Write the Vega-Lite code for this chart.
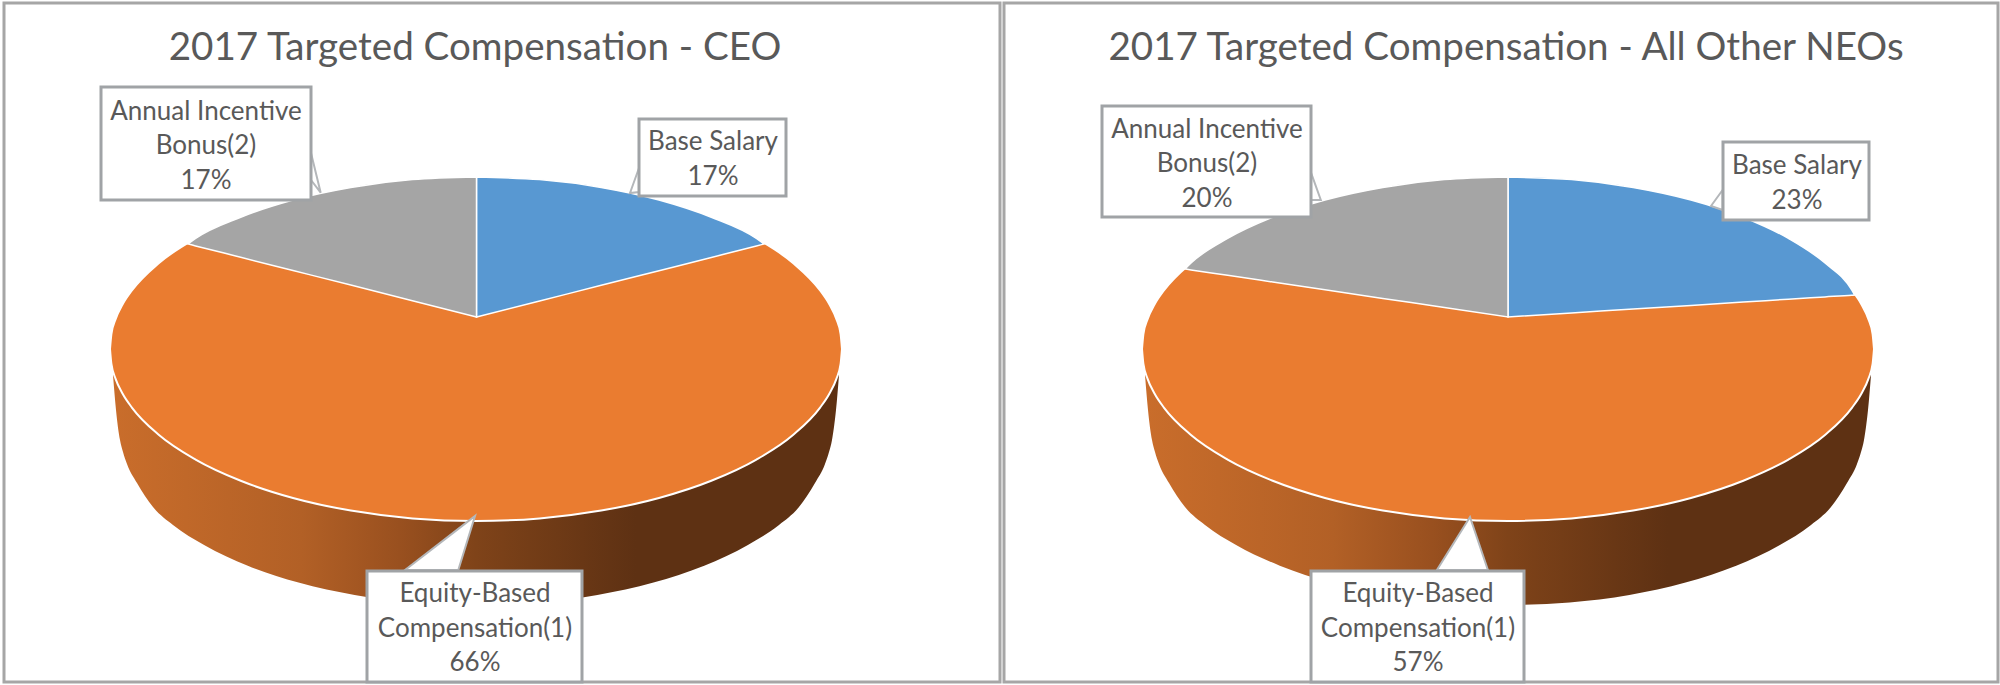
{"$schema":"https://vega.github.io/schema/vega-lite/v6.json","width":2000,"height":685,"padding":0,"autosize":{"type":"fit","contains":"padding"},"background":"white","config":{"view":{"stroke":null}},
"datasets":{
"rim":[
{"panel":"CEO","x":113,"y":360,"y2":375},{"panel":"CEO","x":116,"y":360,"y2":410},{"panel":"CEO","x":120,"y":360,"y2":440},{"panel":"CEO","x":123,"y":360,"y2":452},{"panel":"CEO","x":127,"y":360,"y2":464},{"panel":"CEO","x":137,"y":360,"y2":483},{"panel":"CEO","x":153,"y":360,"y2":507},{"panel":"CEO","x":173,"y":360,"y2":525},{"panel":"CEO","x":204.1,"y":360,"y2":545},{"panel":"CEO","x":247.8,"y":360,"y2":565.7},{"panel":"CEO","x":298.5,"y":360,"y2":582.5},{"panel":"CEO","x":354.6,"y":360,"y2":594.9},{"panel":"CEO","x":414.4,"y":360,"y2":602.4},{"panel":"CEO","x":476,"y":360,"y2":605},{"panel":"CEO","x":537.6,"y":360,"y2":602.4},{"panel":"CEO","x":597.4,"y":360,"y2":594.9},{"panel":"CEO","x":653.5,"y":360,"y2":582.5},{"panel":"CEO","x":704.2,"y":360,"y2":565.7},{"panel":"CEO","x":747.9,"y":360,"y2":545},{"panel":"CEO","x":779,"y":360,"y2":525},{"panel":"CEO","x":799,"y":360,"y2":507},{"panel":"CEO","x":815,"y":360,"y2":483},{"panel":"CEO","x":825,"y":360,"y2":464},{"panel":"CEO","x":829,"y":360,"y2":452},{"panel":"CEO","x":832,"y":360,"y2":440},{"panel":"CEO","x":836,"y":360,"y2":410},{"panel":"CEO","x":839,"y":360,"y2":375},
{"panel":"NEO","x":1145,"y":360,"y2":375},{"panel":"NEO","x":1148,"y":360,"y2":410},{"panel":"NEO","x":1152,"y":360,"y2":440},{"panel":"NEO","x":1155,"y":360,"y2":452},{"panel":"NEO","x":1159,"y":360,"y2":464},{"panel":"NEO","x":1169,"y":360,"y2":483},{"panel":"NEO","x":1185,"y":360,"y2":507},{"panel":"NEO","x":1205,"y":360,"y2":525},{"panel":"NEO","x":1236.1,"y":360,"y2":545},{"panel":"NEO","x":1279.8,"y":360,"y2":565.7},{"panel":"NEO","x":1330.5,"y":360,"y2":582.5},{"panel":"NEO","x":1386.6,"y":360,"y2":594.9},{"panel":"NEO","x":1446.4,"y":360,"y2":602.4},{"panel":"NEO","x":1508,"y":360,"y2":605},{"panel":"NEO","x":1569.6,"y":360,"y2":602.4},{"panel":"NEO","x":1629.4,"y":360,"y2":594.9},{"panel":"NEO","x":1685.5,"y":360,"y2":582.5},{"panel":"NEO","x":1736.2,"y":360,"y2":565.7},{"panel":"NEO","x":1779.9,"y":360,"y2":545},{"panel":"NEO","x":1811,"y":360,"y2":525},{"panel":"NEO","x":1831,"y":360,"y2":507},{"panel":"NEO","x":1847,"y":360,"y2":483},{"panel":"NEO","x":1857,"y":360,"y2":464},{"panel":"NEO","x":1861,"y":360,"y2":452},{"panel":"NEO","x":1864,"y":360,"y2":440},{"panel":"NEO","x":1868,"y":360,"y2":410},{"panel":"NEO","x":1871,"y":360,"y2":375}],
"equity":[
{"panel":"CEO","x":110,"y":349,"y2":349},{"panel":"CEO","x":111.4,"y":334,"y2":364},{"panel":"CEO","x":115.6,"y":319.1,"y2":378.9},{"panel":"CEO","x":122.5,"y":304.5,"y2":393.5},{"panel":"CEO","x":132.1,"y":290.2,"y2":407.8},{"panel":"CEO","x":159,"y":263,"y2":435},{"panel":"CEO","x":195.6,"y":238.4,"y2":459.6},{"panel":"CEO","x":240.7,"y":217.2,"y2":480.8},{"panel":"CEO","x":293,"y":200,"y2":498},{"panel":"CEO","x":350.8,"y":187.4,"y2":510.6},{"panel":"CEO","x":412.4,"y":179.6,"y2":518.4},{"panel":"CEO","x":476,"y":177,"y2":521},{"panel":"CEO","x":539.6,"y":179.6,"y2":518.4},{"panel":"CEO","x":601.2,"y":187.4,"y2":510.6},{"panel":"CEO","x":659,"y":200,"y2":498},{"panel":"CEO","x":711.3,"y":217.2,"y2":480.8},{"panel":"CEO","x":756.4,"y":238.4,"y2":459.6},{"panel":"CEO","x":793,"y":263,"y2":435},{"panel":"CEO","x":819.9,"y":290.2,"y2":407.8},{"panel":"CEO","x":829.5,"y":304.5,"y2":393.5},{"panel":"CEO","x":836.4,"y":319.1,"y2":378.9},{"panel":"CEO","x":840.6,"y":334,"y2":364},{"panel":"CEO","x":842,"y":349,"y2":349},
{"panel":"NEO","x":1142,"y":349,"y2":349},{"panel":"NEO","x":1143.4,"y":334,"y2":364},{"panel":"NEO","x":1147.6,"y":319.1,"y2":378.9},{"panel":"NEO","x":1154.5,"y":304.5,"y2":393.5},{"panel":"NEO","x":1164.1,"y":290.2,"y2":407.8},{"panel":"NEO","x":1191,"y":263,"y2":435},{"panel":"NEO","x":1227.6,"y":238.4,"y2":459.6},{"panel":"NEO","x":1272.7,"y":217.2,"y2":480.8},{"panel":"NEO","x":1325,"y":200,"y2":498},{"panel":"NEO","x":1382.8,"y":187.4,"y2":510.6},{"panel":"NEO","x":1444.4,"y":179.6,"y2":518.4},{"panel":"NEO","x":1508,"y":177,"y2":521},{"panel":"NEO","x":1571.6,"y":179.6,"y2":518.4},{"panel":"NEO","x":1633.2,"y":187.4,"y2":510.6},{"panel":"NEO","x":1691,"y":200,"y2":498},{"panel":"NEO","x":1743.3,"y":217.2,"y2":480.8},{"panel":"NEO","x":1788.4,"y":238.4,"y2":459.6},{"panel":"NEO","x":1825,"y":263,"y2":435},{"panel":"NEO","x":1851.9,"y":290.2,"y2":407.8},{"panel":"NEO","x":1861.5,"y":304.5,"y2":393.5},{"panel":"NEO","x":1868.4,"y":319.1,"y2":378.9},{"panel":"NEO","x":1872.6,"y":334,"y2":364},{"panel":"NEO","x":1874,"y":349,"y2":349}],
"wedges":[
{"panel":"CEO","slice":"Base Salary","x":476.5,"y":177,"y2":317},{"panel":"CEO","slice":"Base Salary","x":539.6,"y":179.6,"y2":301},{"panel":"CEO","slice":"Base Salary","x":601.2,"y":187.4,"y2":285.3},{"panel":"CEO","slice":"Base Salary","x":659,"y":200,"y2":270.7},{"panel":"CEO","slice":"Base Salary","x":711.3,"y":217.2,"y2":257.5},{"panel":"CEO","slice":"Base Salary","x":756.4,"y":238.4,"y2":246},{"panel":"CEO","slice":"Base Salary","x":764,"y":244,"y2":244},
{"panel":"CEO","slice":"Annual Incentive Bonus","x":188,"y":244,"y2":244},{"panel":"CEO","slice":"Annual Incentive Bonus","x":195.6,"y":238.4,"y2":245.9},{"panel":"CEO","slice":"Annual Incentive Bonus","x":240.7,"y":217.2,"y2":257.3},{"panel":"CEO","slice":"Annual Incentive Bonus","x":293,"y":200,"y2":270.5},{"panel":"CEO","slice":"Annual Incentive Bonus","x":350.8,"y":187.4,"y2":285.1},{"panel":"CEO","slice":"Annual Incentive Bonus","x":412.4,"y":179.6,"y2":300.7},{"panel":"CEO","slice":"Annual Incentive Bonus","x":476.5,"y":177,"y2":317},
{"panel":"NEO","slice":"Base Salary","x":1508,"y":177,"y2":317},{"panel":"NEO","slice":"Base Salary","x":1571.6,"y":179.6,"y2":313},{"panel":"NEO","slice":"Base Salary","x":1633.2,"y":187.4,"y2":309},{"panel":"NEO","slice":"Base Salary","x":1691,"y":200,"y2":305.4},{"panel":"NEO","slice":"Base Salary","x":1743.3,"y":217.2,"y2":302.1},{"panel":"NEO","slice":"Base Salary","x":1788.4,"y":238.4,"y2":299.2},{"panel":"NEO","slice":"Base Salary","x":1825,"y":263,"y2":296.9},{"panel":"NEO","slice":"Base Salary","x":1851.9,"y":290.2,"y2":295.2},{"panel":"NEO","slice":"Base Salary","x":1854.6,"y":295,"y2":295},
{"panel":"NEO","slice":"Annual Incentive Bonus","x":1185,"y":269,"y2":269},{"panel":"NEO","slice":"Annual Incentive Bonus","x":1191,"y":263,"y2":269.9},{"panel":"NEO","slice":"Annual Incentive Bonus","x":1227.6,"y":238.4,"y2":275.3},{"panel":"NEO","slice":"Annual Incentive Bonus","x":1272.7,"y":217.2,"y2":282},{"panel":"NEO","slice":"Annual Incentive Bonus","x":1325,"y":200,"y2":289.8},{"panel":"NEO","slice":"Annual Incentive Bonus","x":1382.8,"y":187.4,"y2":298.4},{"panel":"NEO","slice":"Annual Incentive Bonus","x":1444.4,"y":179.6,"y2":307.5},{"panel":"NEO","slice":"Annual Incentive Bonus","x":1508,"y":177,"y2":317}],
"leaders":[
{"id":"c1","x":311,"y":153,"y2":180},{"id":"c1","x":320.7,"y":192.7,"y2":192.7},
{"id":"c2","x":630,"y":193,"y2":193},{"id":"c2","x":639,"y":168,"y2":192},
{"id":"c3","x":405,"y":570,"y2":570},{"id":"c3","x":458.3,"y":528.9,"y2":570},{"id":"c3","x":475,"y":516,"y2":516},
{"id":"n1","x":1311,"y":172.6,"y2":200},{"id":"n1","x":1320.8,"y":200,"y2":200},
{"id":"n2","x":1711,"y":206,"y2":206},{"id":"n2","x":1722.6,"y":190,"y2":210},
{"id":"n3","x":1436.9,"y":570,"y2":570},{"id":"n3","x":1470,"y":517,"y2":570},{"id":"n3","x":1487.9,"y":570,"y2":570}],
"panels":[{"x":4,"x2":1000,"y":3,"y2":682,"title":"2017 Targeted Compensation - CEO","cx":475,"cy":48},{"x":1004,"x2":1998,"y":3,"y2":682,"title":"2017 Targeted Compensation - All Other NEOs","cx":1506,"cy":48}],
"labels":[
{"x":101,"x2":311,"y":87,"y2":200,"cx":206,"cy":111.5,"label":"Annual Incentive\nBonus(2)\n17%"},
{"x":639,"x2":786,"y":119,"y2":196,"cx":713,"cy":142,"label":"Base Salary\n17%"},
{"x":367,"x2":582,"y":571,"y2":682,"cx":475,"cy":594,"label":"Equity-Based\nCompensation(1)\n66%"},
{"x":1102,"x2":1311,"y":106,"y2":217,"cx":1207,"cy":129.5,"label":"Annual Incentive\nBonus(2)\n20%"},
{"x":1723,"x2":1869,"y":142,"y2":220,"cx":1797,"cy":166,"label":"Base Salary\n23%"},
{"x":1311,"x2":1524,"y":571,"y2":682,"cx":1418,"cy":594,"label":"Equity-Based\nCompensation(1)\n57%"}]
},
"encoding":{"x":{"field":"x","type":"quantitative","axis":null,"scale":{"domain":[0,2000],"nice":false,"zero":false}},"y":{"field":"y","type":"quantitative","axis":null,"scale":{"domain":[685,0],"nice":false,"zero":false}}},
"layer":[
{"data":{"name":"panels"},"mark":{"type":"rect","fill":"white","stroke":"#a6a6a6","strokeWidth":3},"encoding":{"x2":{"field":"x2"},"y2":{"field":"y2"}}},
{"data":{"name":"rim"},"mark":{"type":"area","orient":"vertical","interpolate":"monotone","color":{"gradient":"linear","x1":0,"y1":0,"x2":1,"y2":0,"stops":[{"offset":0,"color":"#c96d2b"},{"offset":0.26,"color":"#b26026"},{"offset":0.395,"color":"#99501f"},{"offset":0.5,"color":"#7f4319"},{"offset":0.72,"color":"#5e3113"},{"offset":1,"color":"#5e3113"}]}},"encoding":{"y2":{"field":"y2"},"detail":{"field":"panel"}}},
{"data":{"name":"equity"},"mark":{"type":"area","orient":"vertical","interpolate":"monotone","fill":"#ea7c30","stroke":"white","strokeWidth":2},"encoding":{"y2":{"field":"y2"},"detail":{"field":"panel"}}},
{"data":{"name":"wedges"},"transform":[{"filter":"datum.slice==='Base Salary'"}],"mark":{"type":"area","orient":"vertical","interpolate":"monotone","fill":"#5898d2","stroke":"white","strokeWidth":1.5},"encoding":{"y2":{"field":"y2"},"detail":{"field":"panel"}}},
{"data":{"name":"wedges"},"transform":[{"filter":"datum.slice!=='Base Salary'"}],"mark":{"type":"area","orient":"vertical","interpolate":"monotone","fill":"#a5a5a5","stroke":"white","strokeWidth":1.5},"encoding":{"y2":{"field":"y2"},"detail":{"field":"panel"}}},
{"data":{"name":"leaders"},"mark":{"type":"area","orient":"vertical","fill":"white","stroke":"#b4b7ba","strokeWidth":2},"encoding":{"y2":{"field":"y2"},"detail":{"field":"id"}}},
{"data":{"name":"labels"},"mark":{"type":"rect","fill":"white","stroke":"#a0a3a6","strokeWidth":3},"encoding":{"x2":{"field":"x2"},"y2":{"field":"y2"}}},
{"data":{"name":"labels"},"mark":{"type":"text","font":"Lato","fontSize":26,"color":"#595959","align":"center","baseline":"middle","lineBreak":"\n","lineHeight":34.5},"encoding":{"x":{"field":"cx","type":"quantitative"},"y":{"field":"cy","type":"quantitative"},"text":{"field":"label"}}},
{"data":{"name":"panels"},"mark":{"type":"text","font":"Lato","fontSize":38.6,"color":"#595959","align":"center","baseline":"middle"},"encoding":{"x":{"field":"cx","type":"quantitative"},"y":{"field":"cy","type":"quantitative"},"text":{"field":"title"}}}
]}
